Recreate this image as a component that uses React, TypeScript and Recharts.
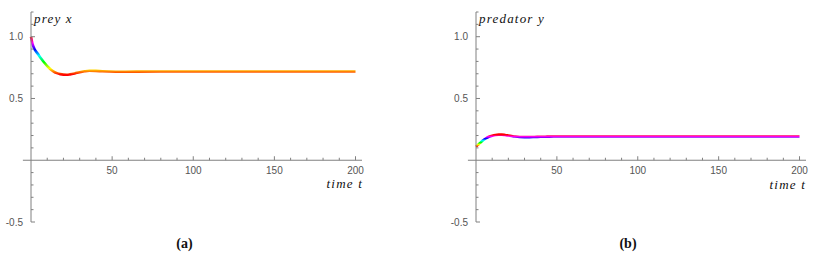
import React from 'react';
import { Line, LineChart, ReferenceLine, XAxis, YAxis } from 'recharts';

// sample times shared by both solutions
const timeT = [0, 1, 2, 3, 4, 6, 8, 10, 12, 14, 16, 18, 20, 22, 24, 27, 30, 33, 36, 40, 44, 48, 55, 65, 80, 100, 130, 160, 200];
const preyX = [1.0, 0.94, 0.905, 0.882, 0.865, 0.828, 0.793, 0.762, 0.737, 0.718, 0.705, 0.697, 0.693, 0.692, 0.695, 0.703, 0.713, 0.72, 0.724, 0.723, 0.72, 0.718, 0.716, 0.717, 0.718, 0.718, 0.718, 0.718, 0.718];
const predatorY = [0.11, 0.122, 0.134, 0.146, 0.157, 0.176, 0.19, 0.199, 0.205, 0.207, 0.207, 0.204, 0.2, 0.196, 0.192, 0.188, 0.187, 0.187, 0.188, 0.19, 0.191, 0.192, 0.192, 0.192, 0.192, 0.192, 0.192, 0.192, 0.192];

const xTicks = [10, 20, 30, 40, 50, 60, 70, 80, 90, 100, 110, 120, 130, 140, 150, 160, 170, 180, 190, 200];
const xLabels = [50, 100, 150, 200];
const yTicks = [-0.5, -0.4, -0.3, -0.2, -0.1, 0.1, 0.2, 0.3, 0.4, 0.5, 0.6, 0.7, 0.8, 0.9, 1.0, 1.1, 1.2];
const yLabels = [-0.5, 0.5, 1.0];

// Hue[] colour function, scaled over the plotted range
const hueStops = ['#ff0000', '#ffff00', '#00ff00', '#00ffff', '#0000ff', '#ff00ff', '#ff0000'];

const W = 408;
const H = 256;
const TOP = 12;
const BOTTOM = 34;
const X_AXIS_H = 1;
const Y_MIN = -0.5;
const Y_MAX = 1.2;
const X_MAX = 204;
const ZERO_SHIFT = ((H - TOP - BOTTOM) * (0 - Y_MIN)) / (Y_MAX - Y_MIN);

const AXIS = '#808080';
const TICK_TEXT = '#555';
const SANS = 'Liberation Sans';
const SERIF = 'Liberation Serif';

function XTick(props: any) {
  const { x, y, payload } = props;
  const y0 = y - ZERO_SHIFT;
  const major = xLabels.includes(payload.value);
  return (
    <g>
      <line x1={x} x2={x} y1={y0} y2={y0 - (major ? 4 : 2.5)} stroke={AXIS} strokeWidth={1} />
      {major && (
        <text x={x} y={y0 + 13.5} textAnchor="middle" fontSize={10} fontFamily={SANS} fill={TICK_TEXT}>
          {payload.value}
        </text>
      )}
    </g>
  );
}

function YTick(props: any) {
  const { x, y, payload } = props;
  const major = yLabels.includes(payload.value);
  return (
    <g>
      <line x1={x} x2={x + (major ? 4 : 2.5)} y1={y} y2={y} stroke={AXIS} strokeWidth={1} />
      {major && (
        <text x={x - 8} y={y + 3.5} textAnchor="end" fontSize={10} fontFamily={SANS} fill={TICK_TEXT}>
          {payload.value.toFixed(1)}
        </text>
      )}
    </g>
  );
}

function Panel({ id, values, left, right }: { id: string; values: number[]; left: number; right: number }) {
  const data = timeT.map((t, i) => ({ t, v: values[i] }));
  return (
    <LineChart width={W} height={H} data={data} margin={{ top: TOP, right, bottom: BOTTOM - X_AXIS_H, left }}>
      <defs>
        <linearGradient id={id} x1="0" y1="1" x2="0" y2="0">
          {hueStops.map((c, i) => (
            <stop key={i} offset={i / (hueStops.length - 1)} stopColor={c} />
          ))}
        </linearGradient>
      </defs>
      <XAxis
        dataKey="t"
        type="number"
        domain={[0, X_MAX]}
        ticks={xTicks}
        interval={0}
        height={X_AXIS_H}
        tickSize={0}
        tickMargin={0}
        axisLine={false}
        tickLine={false}
        tick={XTick}
      />
      <YAxis
        type="number"
        domain={[Y_MIN, Y_MAX]}
        ticks={yTicks}
        interval={0}
        width={31}
        tickSize={0}
        tickMargin={0}
        tickLine={false}
        axisLine={{ stroke: AXIS, strokeWidth: 1 }}
        tick={YTick}
      />
      <ReferenceLine
        segment={[{ x: -5, y: 0 }, { x: X_MAX, y: 0 }]}
        stroke={AXIS}
        strokeWidth={1}
        ifOverflow="visible"
      />
      <Line
        dataKey="v"
        type="monotone"
        stroke={`url(#${id})`}
        strokeWidth={2.6}
        dot={false}
        activeDot={false}
        isAnimationActive={false}
      />
    </LineChart>
  );
}

function Caption({ x, y, anchor = 'start', bold = false, children }: { x: number; y: number; anchor?: string; bold?: boolean; children: string }) {
  return (
    <text
      x={x}
      y={y}
      textAnchor={anchor}
      fontFamily={SERIF}
      fontSize={bold ? 14 : 13}
      fontStyle={bold ? 'normal' : 'italic'}
      fontWeight={bold ? 'bold' : 'normal'}
      letterSpacing={bold ? 0 : 1.2}
      fill="#111"
    >
      {children}
    </text>
  );
}

export default function App() {
  return (
    <div style={{ position: 'absolute', left: 0, top: 0, width: 816, height: 256, background: '#fff' }}>
      <div style={{ position: 'absolute', left: 0, top: 0 }}>
        <Panel id="preyHue" values={preyX} left={0} right={46} />
      </div>
      <div style={{ position: 'absolute', left: W, top: 0 }}>
        <Panel id="predatorHue" values={predatorY} left={37} right={10} />
      </div>
      <svg width={816} height={256} style={{ position: 'absolute', left: 0, top: 0, pointerEvents: 'none' }}>
        <Caption x={34} y={23}>prey x</Caption>
        <Caption x={479} y={23}>predator y</Caption>
        <Caption x={363} y={188} anchor="end">time t</Caption>
        <Caption x={806} y={189} anchor="end">time t</Caption>
        <Caption x={184.5} y={248} anchor="middle" bold>(a)</Caption>
        <Caption x={628} y={248} anchor="middle" bold>(b)</Caption>
      </svg>
    </div>
  );
}
